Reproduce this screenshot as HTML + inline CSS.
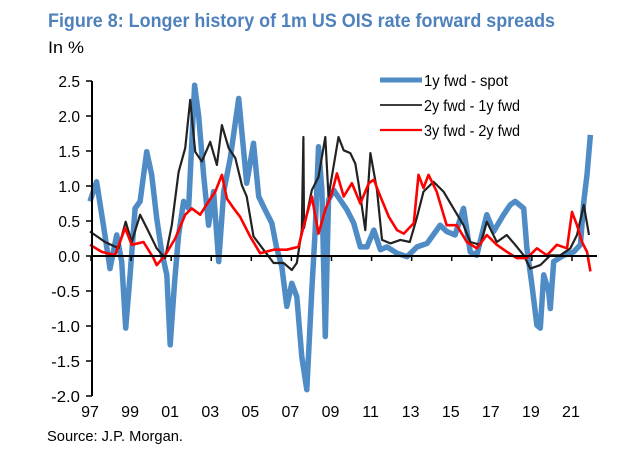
<!DOCTYPE html>
<html><head><meta charset="utf-8"><style>
html,body{margin:0;padding:0;background:#fff;}
svg{display:block;font-family:"Liberation Sans",sans-serif;}
</style></head><body>
<svg id="chart" width="640" height="454" viewBox="0 0 640 454" xmlns="http://www.w3.org/2000/svg">
<text x="48" y="27" font-size="19" font-weight="bold" fill="#4f81bd" textLength="507" lengthAdjust="spacingAndGlyphs">Figure 8: Longer history of 1m US OIS rate forward spreads</text>
<text x="48" y="53" font-size="17" fill="#000" textLength="36" lengthAdjust="spacingAndGlyphs">In %</text>
<g id="plot"></g>
<g id="axes"></g>
<g>
  <line x1="380" y1="80" x2="422" y2="80" stroke="#4f8cc6" stroke-width="5"/>
  <text x="424" y="86" font-size="16" textLength="84" lengthAdjust="spacingAndGlyphs">1y fwd - spot</text>
  <line x1="380" y1="105" x2="422" y2="105" stroke="#222" stroke-width="1.8"/>
  <text x="424" y="111" font-size="16" textLength="96" lengthAdjust="spacingAndGlyphs">2y fwd - 1y fwd</text>
  <line x1="380" y1="130" x2="422" y2="130" stroke="#ff0000" stroke-width="2.2"/>
  <text x="424" y="136" font-size="16" textLength="96" lengthAdjust="spacingAndGlyphs">3y fwd - 2y fwd</text>
</g>
<text x="47" y="441" font-size="15" textLength="136" lengthAdjust="spacingAndGlyphs">Source: J.P. Morgan.</text>
</svg>
<script>
const xTickLabels = ["97","99","01","03","05","07","09","11","13","15","17","19","21"];
const xTickYears = [1997,1999,2001,2003,2005,2007,2009,2011,2013,2015,2017,2019,2021];
const yTickValues = [2.5,2.0,1.5,1.0,0.5,0.0,-0.5,-1.0,-1.5,-2.0];
const yTickLabels = ["2.5","2.0","1.5","1.0","0.5","0.0","-0.5","-1.0","-1.5","-2.0"];

const spotDates = [1997.0,1997.33,1997.67,1998.0,1998.33,1998.58,1998.78,1999.0,1999.25,1999.5,1999.83,2000.08,2000.33,2000.58,2000.83,2001.0,2001.22,2001.42,2001.67,2001.92,2002.22,2002.42,2002.67,2002.92,2003.17,2003.42,2003.67,2004.0,2004.42,2004.82,2005.16,2005.42,2005.74,2006.07,2006.3,2006.57,2006.82,2007.07,2007.32,2007.57,2007.82,2008.07,2008.24,2008.4,2008.57,2008.74,2008.9,2009.16,2009.49,2009.82,2010.16,2010.49,2010.82,2011.16,2011.49,2011.82,2012.32,2012.82,2013.32,2013.82,2014.3,2014.47,2014.8,2015.22,2015.64,2015.97,2016.3,2016.8,2017.14,2017.64,2017.97,2018.22,2018.64,2018.8,2019.05,2019.3,2019.47,2019.64,2019.89,2019.97,2020.14,2020.64,2021.14,2021.47,2021.64,2021.8,2021.97];
const spotValues = [0.78,1.06,0.44,-0.18,0.3,-0.08,-1.03,-0.27,0.68,0.78,1.49,1.16,0.54,0.06,-0.27,-1.27,-0.37,0.3,0.78,0.68,2.44,2.01,1.16,0.44,0.92,-0.08,0.92,1.4,2.25,1.04,1.61,0.85,0.66,0.47,0.13,-0.15,-0.72,-0.39,-0.58,-1.44,-1.91,-0.49,0.37,1.56,0.94,-1.15,0.8,0.94,0.8,0.66,0.47,0.13,0.13,0.37,0.09,0.13,0.04,-0.01,0.13,0.18,0.37,0.44,0.35,0.3,0.68,0.06,0.01,0.59,0.35,0.59,0.73,0.78,0.68,0.11,-0.41,-0.99,-1.03,-0.27,-0.51,-0.75,-0.08,0.01,0.06,0.16,0.78,1.16,1.73];

const fwd21Dates = [1997.0,1997.75,1998.42,1998.78,1999.08,1999.5,1999.92,2000.33,2000.75,2001.08,2001.42,2001.75,2002.0,2002.25,2002.58,2003.0,2003.33,2003.58,2003.92,2004.25,2004.58,2004.82,2005.16,2005.66,2006.16,2006.66,2007.07,2007.32,2007.57,2007.65,2007.68,2008.07,2008.4,2008.74,2008.9,2009.4,2009.66,2009.99,2010.24,2010.4,2010.74,2010.99,2011.32,2011.57,2011.99,2012.49,2012.96,2013.3,2013.64,2014.14,2014.64,2015.14,2015.64,2015.97,2016.47,2016.8,2017.3,2017.8,2018.22,2018.64,2018.97,2019.47,2019.97,2020.47,2020.97,2021.3,2021.64,2021.9];
const fwd21Values = [0.35,0.2,0.11,0.49,0.2,0.59,0.35,0.11,-0.03,0.44,1.2,1.54,2.23,1.49,1.35,1.63,1.3,1.87,1.54,1.4,1.01,0.85,0.28,0.09,-0.1,-0.1,-0.2,-0.1,0.37,1.7,0.4,0.94,1.13,1.7,0.85,1.7,1.51,1.47,1.32,1.04,0.37,1.47,0.94,0.23,0.18,0.23,0.2,0.54,0.92,1.06,0.92,0.68,0.44,0.2,0.16,0.49,0.2,0.3,0.16,0.01,-0.18,-0.13,0.01,0.01,0.11,0.3,0.73,0.3];

const fwd32Dates = [1997.0,1997.58,1998.25,1998.75,1999.08,1999.67,2000.17,2000.33,2000.75,2001.25,2001.75,2002.08,2002.5,2002.92,2003.25,2003.58,2003.83,2004.17,2004.49,2004.99,2005.49,2006.16,2006.82,2007.4,2007.66,2008.07,2008.4,2008.74,2009.07,2009.32,2009.66,2010.07,2010.49,2010.91,2011.16,2011.49,2011.91,2012.32,2012.66,2013.16,2013.39,2013.64,2013.89,2014.3,2014.8,2015.3,2015.8,2016.3,2016.8,2017.3,2017.8,2018.3,2018.8,2019.3,2019.8,2020.3,2020.8,2021.05,2021.3,2021.55,2021.8,2021.97];
const fwd32Values = [0.16,0.06,0.01,0.4,0.16,0.2,-0.03,-0.13,0.01,0.25,0.59,0.68,0.59,0.78,0.92,1.16,0.82,0.68,0.56,0.28,0.04,0.09,0.09,0.13,0.42,0.85,0.32,0.66,0.9,1.18,0.85,1.04,0.75,1.04,1.09,0.85,0.56,0.37,0.32,0.47,1.16,0.97,1.16,0.92,0.44,0.44,0.2,0.11,0.3,0.16,0.06,-0.03,-0.03,0.11,0.01,0.16,0.11,0.63,0.44,0.2,0.06,-0.22];

const NS = "http://www.w3.org/2000/svg";
function xScale(yr){ return 90 + (yr - 1997) * 20.04; }
function yScale(v){ return 256 - v * 70; }

const plot = document.getElementById('plot');
const axes = document.getElementById('axes');

function drawSeries(dates, vals, color, width, name){
  const p = document.createElementNS(NS, 'polyline');
  p.setAttribute('points', dates.map((d,i)=>xScale(d).toFixed(1)+','+yScale(vals[i]).toFixed(1)).join(' '));
  p.setAttribute('fill','none');
  p.setAttribute('stroke', color);
  p.setAttribute('stroke-width', width);
  p.setAttribute('stroke-linejoin','round');
  
  
  plot.appendChild(p);
}
drawSeries(spotDates, spotValues, '#4f8cc6', 5.5, 'series-1y-fwd-spot');
drawSeries(fwd21Dates, fwd21Values, '#222222', 2.2, 'series-2y-fwd-1y-fwd');
drawSeries(fwd32Dates, fwd32Values, '#ff0000', 2.6, 'series-3y-fwd-2y-fwd');

const ya = document.createElementNS(NS,'line');
ya.setAttribute('x1',92); ya.setAttribute('x2',92);
ya.setAttribute('y1',yScale(2.5)); ya.setAttribute('y2',yScale(-2.0));
ya.setAttribute('stroke','#000'); ya.setAttribute('stroke-width',2);


axes.appendChild(ya);
yTickValues.forEach((v,i)=>{
  const t = document.createElementNS(NS,'line');
  t.setAttribute('x1',86); t.setAttribute('x2',92);
  t.setAttribute('y1',yScale(v)); t.setAttribute('y2',yScale(v));
  t.setAttribute('stroke','#000'); t.setAttribute('stroke-width',1.5);
  
  
  axes.appendChild(t);
  const l = document.createElementNS(NS,'text');
  l.setAttribute('x',80); l.setAttribute('y',yScale(v)+6);
  l.setAttribute('text-anchor','end'); l.setAttribute('font-size','16');
  l.setAttribute('textLength', yTickLabels[i].length*7.2);
  l.setAttribute('lengthAdjust','spacingAndGlyphs');
  l.textContent = yTickLabels[i];
  
  
  axes.appendChild(l);
});
const xa = document.createElementNS(NS,'line');
xa.setAttribute('x1',92); xa.setAttribute('x2',xScale(2022.3));
xa.setAttribute('y1',yScale(0)); xa.setAttribute('y2',yScale(0));
xa.setAttribute('stroke','#000'); xa.setAttribute('stroke-width',2);


axes.appendChild(xa);
xTickYears.forEach((yr,i)=>{
  const t = document.createElementNS(NS,'line');
  t.setAttribute('x1',xScale(yr)+1); t.setAttribute('x2',xScale(yr)+1);
  t.setAttribute('y1',yScale(0)); t.setAttribute('y2',yScale(0)+5);
  t.setAttribute('stroke','#000'); t.setAttribute('stroke-width',1.5);
  
  
  axes.appendChild(t);
  const l = document.createElementNS(NS,'text');
  l.setAttribute('x',xScale(yr)); l.setAttribute('y',417);
  l.setAttribute('text-anchor','middle'); l.setAttribute('font-size','16');
  l.textContent = xTickLabels[i];
  
  
  axes.appendChild(l);
});
</script>
</body></html>
